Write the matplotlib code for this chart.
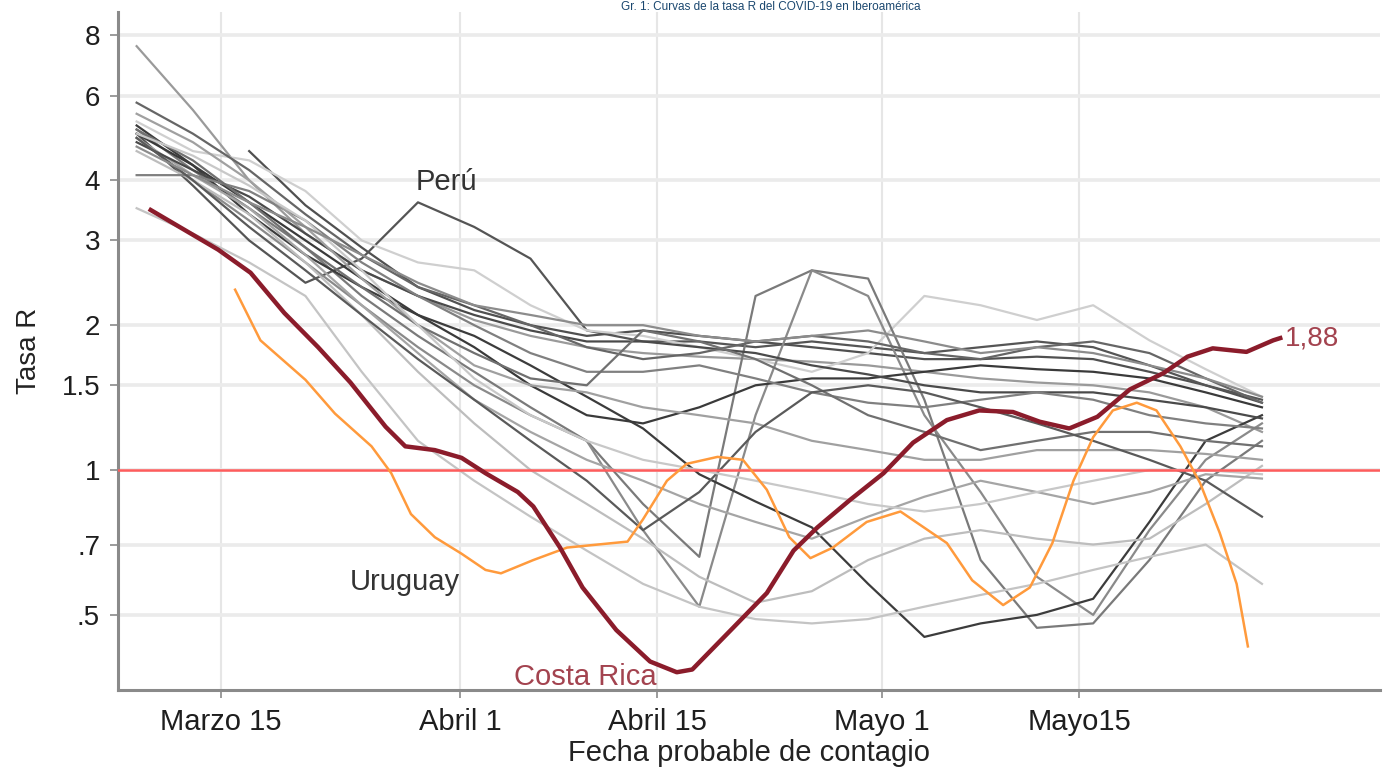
import matplotlib.pyplot as plt
import numpy as np

plt.rcParams['font.family'] = ['Liberation Sans', 'DejaVu Sans']

# dias contados desde el 15 de marzo
dias = [-6, -2, 2, 6, 10, 14, 18, 22, 26, 30, 34, 38, 42, 46, 50, 54, 58, 62, 66, 70, 74]

# resto de paises (lineas grises), tasa R
r_a = [7.6, 5.6, 4.0, 3.1, 2.6, 2.3, 2.05, 1.9, 1.8, 1.75, 1.72, 1.7, 1.68, 1.65, 1.6, 1.55, 1.52, 1.5, 1.45, 1.35, 1.2]
r_b = [np.nan, np.nan, 4.6, 3.55, 2.9, 2.4, 2.15, 2.0, 1.9, 1.95, 1.9, 1.85, 1.8, 1.75, 1.7, 1.7, 1.72, 1.7, 1.6, 1.5, 1.38]
r_peru = [5.0, 3.9, 3.0, 2.45, 2.75, 3.6, 3.2, 2.75, 1.95, 1.85, 1.85, 1.8, 1.85, 1.8, 1.75, 1.8, 1.85, 1.8, 1.65, 1.5, 1.4]
r_c = [5.3, 4.6, 4.4, 3.8, 3.0, 2.7, 2.6, 2.2, 1.95, 1.9, 1.8, 1.7, 1.6, 1.75, 2.3, 2.2, 2.05, 2.2, 1.86, 1.62, 1.42]
r_d = [5.1, 4.2, 3.5, 2.9, 2.3, 1.9, 1.6, 1.35, 1.15, 0.85, 0.66, 2.3, 2.6, 2.5, 1.4, 0.65, 0.47, 0.48, 0.65, 0.95, 1.15]
r_e = [4.9, 4.0, 3.3, 2.7, 2.2, 1.8, 1.5, 1.3, 1.15, 0.75, 0.52, 1.3, 2.6, 2.3, 1.3, 0.9, 0.6, 0.5, 0.75, 1.05, 1.25]
r_f = [5.2, 4.3, 3.4, 2.8, 2.4, 2.1, 1.9, 1.65, 1.42, 1.22, 0.98, 0.86, 0.76, 0.58, 0.45, 0.48, 0.5, 0.54, 0.78, 1.15, 1.3]
r_g = [3.5, 3.1, 2.7, 2.3, 1.6, 1.15, 0.95, 0.8, 0.68, 0.58, 0.52, 0.49, 0.48, 0.49, 0.52, 0.55, 0.58, 0.62, 0.66, 0.7, 0.58]
r_h = [4.6, 4.0, 3.4, 2.7, 2.1, 1.6, 1.25, 1.0, 0.85, 0.72, 0.6, 0.53, 0.56, 0.65, 0.72, 0.75, 0.72, 0.7, 0.72, 0.85, 1.02]
r_i = [4.9, 4.1, 3.5, 2.8, 2.2, 1.75, 1.4, 1.2, 1.05, 0.95, 0.85, 0.78, 0.72, 0.8, 0.88, 0.95, 0.9, 0.85, 0.9, 0.98, 0.96]
r_j = [5.0, 4.3, 3.6, 3.0, 2.5, 2.1, 1.8, 1.5, 1.3, 1.25, 1.35, 1.5, 1.55, 1.55, 1.6, 1.65, 1.62, 1.6, 1.55, 1.45, 1.35]
r_k = [4.8, 4.2, 3.7, 3.1, 2.6, 2.3, 2.1, 1.95, 1.85, 1.85, 1.8, 1.75, 1.65, 1.58, 1.5, 1.45, 1.45, 1.45, 1.4, 1.35, 1.28]
r_l = [4.1, 4.1, 3.8, 3.3, 2.7, 2.3, 2.0, 1.75, 1.6, 1.6, 1.65, 1.55, 1.45, 1.38, 1.35, 1.4, 1.45, 1.4, 1.3, 1.25, 1.22]
r_m = [5.8, 5.0, 4.2, 3.4, 2.8, 2.4, 2.2, 2.0, 1.8, 1.7, 1.75, 1.85, 1.9, 1.85, 1.75, 1.7, 1.8, 1.85, 1.75, 1.55, 1.38]
r_n = [5.5, 4.8, 4.0, 3.2, 2.5, 2.0, 1.65, 1.5, 1.45, 1.35, 1.3, 1.25, 1.15, 1.1, 1.05, 1.05, 1.1, 1.1, 1.1, 1.08, 1.05]
r_o = [5.1, 4.4, 3.6, 2.9, 2.4, 2.0, 1.75, 1.55, 1.5, 1.95, 1.85, 1.7, 1.5, 1.3, 1.2, 1.1, 1.15, 1.2, 1.2, 1.15, 1.12]
r_p = [4.9, 4.0, 3.2, 2.6, 2.1, 1.7, 1.4, 1.15, 0.95, 0.75, 0.9, 1.2, 1.45, 1.5, 1.45, 1.35, 1.25, 1.15, 1.05, 0.95, 0.8]
r_q = [5.0, 4.5, 3.9, 3.3, 2.6, 2.0, 1.55, 1.3, 1.15, 1.05, 1.0, 0.95, 0.9, 0.85, 0.82, 0.85, 0.9, 0.95, 1.0, 1.0, 0.98]
r_s = [4.7, 4.1, 3.6, 3.2, 2.8, 2.45, 2.2, 2.1, 2.0, 2.0, 1.9, 1.85, 1.9, 1.95, 1.85, 1.75, 1.8, 1.75, 1.65, 1.55, 1.42]

grises = [r_a, r_b, r_peru, r_c, r_d, r_e, r_f, r_g, r_h, r_i,
          r_j, r_k, r_l, r_m, r_n, r_o, r_p, r_q, r_s]
tonos = ['#9a9a9a', '#505050', '#555555', '#cfcfcf', '#7a7a7a', '#8a8a8a', '#3c3c3c',
         '#c4c4c4', '#bdbdbd', '#a5a5a5', '#3a3a3a', '#4a4a4a', '#808080', '#666666',
         '#a0a0a0', '#707070', '#5a5a5a', '#c8c8c8', '#8c8c8c']

# Costa Rica
dias_cr = [-5.0, -0.2, 2.1, 4.5, 6.9, 9.2, 11.7, 13.1, 15.2, 17.1, 18.8, 21.1, 22.2, 24.1,
           25.7, 28.1, 30.5, 32.4, 33.5, 36.4, 38.8, 40.7, 42.4, 44.7, 47.1, 49.2, 51.6,
           53.9, 56.3, 58.2, 60.3, 62.3, 64.6, 67.0, 68.7, 70.5, 72.9, 74.8, 75.3]
r_cr = [3.47, 2.87, 2.57, 2.12, 1.8, 1.52, 1.23, 1.12, 1.10, 1.06, 0.985, 0.90, 0.84, 0.69,
        0.57, 0.465, 0.40, 0.38, 0.385, 0.47, 0.555, 0.68, 0.76, 0.866, 0.985, 1.14, 1.27,
        1.33, 1.32, 1.26, 1.22, 1.29, 1.47, 1.59, 1.72, 1.79, 1.76, 1.86, 1.88]

# Uruguay
dias_uy = [1.0, 2.8, 6.0, 8.1, 10.7, 12.1, 13.5, 15.2, 17.1, 18.8, 19.9, 22.2, 24.6, 28.9,
           30.0, 31.7, 33.1, 35.3, 37.1, 38.8, 40.4, 41.9, 43.5, 45.9, 48.3, 51.6, 53.4,
           55.6, 57.5, 59.1, 60.6, 62.0, 63.4, 65.1, 66.5, 68.2, 69.6, 71.0, 72.2, 73.0]
r_uy = [2.37, 1.86, 1.54, 1.31, 1.12, 0.985, 0.81, 0.725, 0.67, 0.62, 0.61, 0.65, 0.69, 0.71,
        0.79, 0.95, 1.03, 1.065, 1.05, 0.91, 0.725, 0.656, 0.69, 0.78, 0.82, 0.705, 0.59,
        0.524, 0.57, 0.705, 0.95, 1.17, 1.33, 1.38, 1.33, 1.12, 0.94, 0.74, 0.58, 0.43]

pos_fechas = [0, 17, 31, 47, 61]
etq_fechas = ['Marzo 15', 'Abril 1', 'Abril 15', 'Mayo 1', 'Mayo15']
pos_r = [0.5, 0.7, 1, 1.5, 2, 3, 4, 6, 8]
etq_r = ['.5', '.7', '1', '1.5', '2', '3', '4', '6', '8']

fig = plt.figure(figsize=(13.89, 7.74), dpi=100)
ax = fig.add_axes([0.085, 0.1085, 0.9086, 0.876])

for serie, tono in zip(grises, tonos):
    ax.plot(dias, serie, color=tono, lw=1.6, solid_joinstyle='round', zorder=2)

ax.axhline(1, color='#ff5c5c', lw=1.8, zorder=3)
ax.plot(dias_uy, r_uy, color='#ff9a3c', lw=1.8, solid_joinstyle='round', zorder=4)
ax.plot(dias_cr, r_cr, color='#8b1c2b', lw=3.2, solid_joinstyle='round', zorder=5)

ax.set_yscale('log')
ax.set_ylim(0.349, 8.95)
ax.set_xlim(-7.32, 82.4)
ax.set_yticks(pos_r)
ax.set_yticklabels(etq_r)
ax.minorticks_off()
ax.set_xticks(pos_fechas)
ax.set_xticklabels(etq_fechas)

ax.grid(axis='y', color='#ebebeb', lw=2.6, zorder=0)
ax.grid(axis='x', color='#e6e6e6', lw=1.5, zorder=0)
ax.set_axisbelow(True)

for lado in ['top', 'right']:
    ax.spines[lado].set_visible(False)
for lado in ['left', 'bottom']:
    ax.spines[lado].set_color('#8a8a8a')
    ax.spines[lado].set_linewidth(2.2)
ax.tick_params(axis='both', colors='#8a8a8a', length=6, width=1.2, labelcolor='#1e1e1e')
ax.tick_params(axis='y', pad=7, labelsize=20)
ax.tick_params(axis='x', pad=7, labelsize=21)

ax.set_ylabel('Tasa R', fontsize=20, color='#222222', labelpad=14)
ax.set_xlabel('Fecha probable de contagio', fontsize=21, color='#222222', labelpad=2)

ax.text(16, 3.97, 'Perú', fontsize=21, color='#333333', ha='center', va='center')
ax.text(13.1, 0.585, 'Uruguay', fontsize=21, color='#333333', ha='center', va='center')
ax.text(25.9, 0.371, 'Costa Rica', fontsize=21, color='#a3434f', ha='center', va='center')
ax.text(75.6, 1.88, '1,88', fontsize=20, color='#a3434f', ha='left', va='center')

fig.text(0.555, 0.999, 'Gr. 1: Curvas de la tasa R del COVID-19 en Iberoamérica',
         fontsize=8.5, color='#1a476f', ha='center', va='top')

fig.savefig('out.png', dpi=100)
